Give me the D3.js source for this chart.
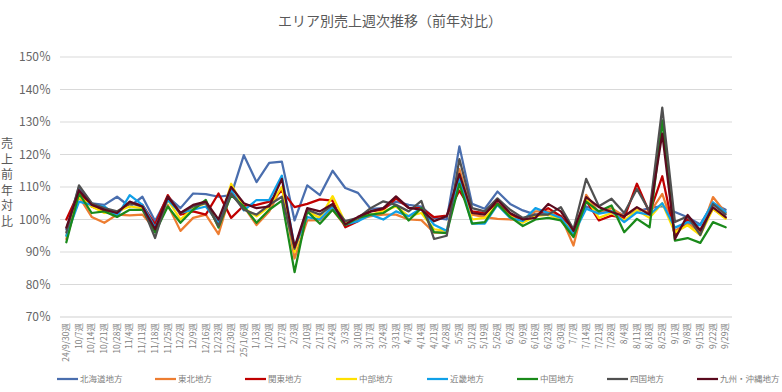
<!DOCTYPE html>
<html><head><meta charset="utf-8">
<script src="https://cdn.jsdelivr.net/npm/d3@7"></script>
<style>html,body{margin:0;padding:0;background:#fff;}svg{display:block;font-family:"Noto Sans CJK JP","Noto Sans",sans-serif;}</style>
</head><body>
<svg id="c" width="782" height="392"></svg>
<script>
const categories = ["24/9/30週","10/7週","10/14週","10/21週","10/28週","11/4週","11/11週","11/18週","11/25週","12/2週","12/9週","12/16週","12/23週","12/30週","25/1/6週","1/13週","1/20週","1/27週","2/3週","2/10週","2/17週","2/24週","3/3週","3/10週","3/17週","3/24週","3/31週","4/7週","4/14週","4/21週","4/28週","5/5週","5/12週","5/19週","5/26週","6/2週","6/9週","6/16週","6/23週","6/30週","7/7週","7/14週","7/21週","7/28週","8/4週","8/11週","8/18週","8/25週","9/1週","9/8週","9/15週","9/22週","9/29週"];
const seriesNames = ["北海道地方","東北地方","関東地方","中部地方","近畿地方","中国地方","四国地方","九州・沖縄地方"];
const hokkaido = [97,110,105,104.5,107,104,107,99.5,107,103.5,108,107.8,107,107.5,119.8,111.5,117.4,117.8,99.7,110.5,107.5,115,109.7,108.2,103.3,103.5,105.5,104.5,104,100.5,100,122.5,104.8,103.3,108.6,104.8,102.8,101.5,102,101,96.5,104,102.5,102.5,101.5,102.5,103.5,104.1,102.3,100.7,98.5,105,103];
const tohoku = [94,107,100.8,99,101.5,101.3,101.5,97,104.5,96.5,100.5,101.5,95.5,108.5,104,98.3,102.5,110,88,99.7,99.8,103,98,100,101,101.5,101.5,100,99.8,96,96,115.5,101.5,100.7,100.2,100,100,102.5,102.5,101,92,107.6,102,103.5,101,103.5,102,107.9,96.5,99,96,106.9,102];
const kanto = [100,108.5,104,102.5,102,105,104.5,98.5,107.5,101.5,102.5,101.5,108,100.5,104.3,104.5,105.5,108.9,103.8,104.8,106.2,105.8,97.6,99.5,102.5,103,106.5,103.6,103.5,100.7,101.2,108.9,102.5,102,105,101.5,99.5,101,103.5,101,96.5,105.8,99.7,101.2,100.5,111,102,113.3,95,100,96.8,103.3,100.5];
const chubu = [95,107,104,102,102.5,104,103.5,97,106,100,103.5,105,98,111,103.5,101,104,110,90,102.5,100.5,107.2,99,100.5,101.5,102.5,104,101,102,97,96.5,113.5,100,100.5,104.5,101,99,101,101.5,100,96.5,106.5,100.5,102,99.7,102.8,100.5,105,96,98.2,95.2,103.3,100.2];
const kinki = [95,105.5,104.5,104,101,107.5,104.5,97.5,106,102,103,104,99,109,102.8,106,106,113.5,91.5,100.7,100,104,98.4,99.5,101.5,100,102.5,101,103.5,98.4,96.5,112.5,98.7,98.7,104.5,100.5,99.5,103.5,102,100.5,95.5,103.3,101.8,102.5,99.2,102.2,101.5,105,97.5,99.2,98.2,105.3,102.3];
const chugoku = [93,108,102,102.5,100.8,103,103,96,104,99,103,106,97.5,107.5,104,99,103,105.8,83.8,102.5,98.7,103,98.3,100.5,101.5,102,104.5,99.7,103.5,96.1,95.8,111,98.7,99.2,104.8,100.8,98,100,100.5,99.7,94.6,105.5,102.5,104.3,96.1,100.2,97.6,130.5,93.5,94.3,92.8,99.2,97.6];
const shikoku = [96,110.5,105,103.5,102.5,105,104,94.3,107,102,104,105,98,108,103,101.5,104.5,107,91,103,101.5,104.5,99.5,100.5,103.5,105.6,104.5,102.5,105.7,94,95,118.6,103.5,102.5,106.5,103,100.5,101.5,101.5,103.8,97,112.5,104.1,106.4,102,109.4,102.5,134.4,99.2,101,95.2,104.7,101.5];
const kyushu = [97.5,109,104.5,103,102,105.5,104,97,107,102,104.5,105.5,100,110,105,103.5,104,112.5,91.5,103.5,102.5,104.8,98.5,100.8,102.5,103.5,107.1,103.6,103,99.5,101,114,102,101.5,106,102,100,100.5,104.8,102.5,96.5,106.9,103.8,102.3,101,103.8,101.5,126.4,94,101.4,96.6,103.7,100.7];
const yTicks = [70,80,90,100,110,120,130,140,150];
const colors = ["#4a6eae","#ed7d31","#c00000","#ffe000","#10a0e8","#1a8a1a","#505050","#5a0a1e"];

const allSeries = [hokkaido,tohoku,kanto,chubu,kinki,chugoku,shikoku,kyushu];
const svg = d3.select("#c");
const x = d3.scaleBand().domain(categories).range([60,732]).paddingInner(0).paddingOuter(0);
const y = d3.scaleLinear().domain([70,150]).range([317,57]);
const cx = c => x(c) + x.bandwidth()/2;

svg.append("text").attr("x",390).attr("y",26).attr("text-anchor","middle")
  .attr("font-size",14).attr("fill","#595959").text("エリア別売上週次推移（前年対比）");

svg.append("g").selectAll("line").data(yTicks).join("line")
  .attr("x1",60).attr("x2",732).attr("y1",d=>y(d)).attr("y2",d=>y(d))
  .attr("stroke",d=>d===70?"#cfcfcf":"#d9d9d9").attr("stroke-width",1);

const yAxis = d3.axisLeft(y).tickValues(yTicks).tickSize(0).tickPadding(0).tickFormat(d=>d+"％");
const ga = svg.append("g").attr("transform","translate(51,0)").call(yAxis);
ga.select(".domain").remove();
ga.selectAll("text").attr("font-size",12).attr("fill","#666666").attr("font-family","'Noto Sans CJK JP',sans-serif");

const yt = "売上前年対比".split("");
svg.append("g").selectAll("text").data(yt).join("text")
  .attr("x",7).attr("y",(d,i)=>148+i*15.5).attr("text-anchor","middle")
  .attr("font-size",12).attr("fill","#595959").text(d=>d);

const xAxis = d3.axisBottom(x).tickSize(0).tickPadding(0);
const gx = svg.append("g").attr("transform","translate(0,317)").call(xAxis);
gx.select(".domain").remove();
gx.selectAll("text").attr("transform","rotate(-90)").attr("text-anchor","end")
  .attr("x",-6).attr("y",0).attr("dy","0.32em").attr("font-size",8.5).attr("fill","#808080")
  .attr("font-family","'Noto Sans CJK JP',sans-serif");

const line = d3.line().x((d,i)=>cx(categories[i])).y(d=>y(d));
svg.append("g").selectAll("path").data(allSeries).join("path")
  .attr("d",d=>line(d)).attr("fill","none").attr("stroke",(d,i)=>colors[i])
  .attr("stroke-width",2.25).attr("stroke-linejoin","round").attr("stroke-linecap","round");

const legX = [57,155,245,336,427,517,607,697];
const lg = svg.append("g").selectAll("g").data(seriesNames).join("g")
  .attr("transform",(d,i)=>`translate(${legX[i]},379)`);
lg.append("line").attr("x1",0).attr("x2",21).attr("y1",0).attr("y2",0)
  .attr("stroke",(d,i)=>colors[i]).attr("stroke-width",2.25);
lg.append("text").attr("x",23).attr("y",0).attr("dy","0.35em").attr("font-size",8.5)
  .attr("fill","#808080").text(d=>d);
</script>
</body></html>
